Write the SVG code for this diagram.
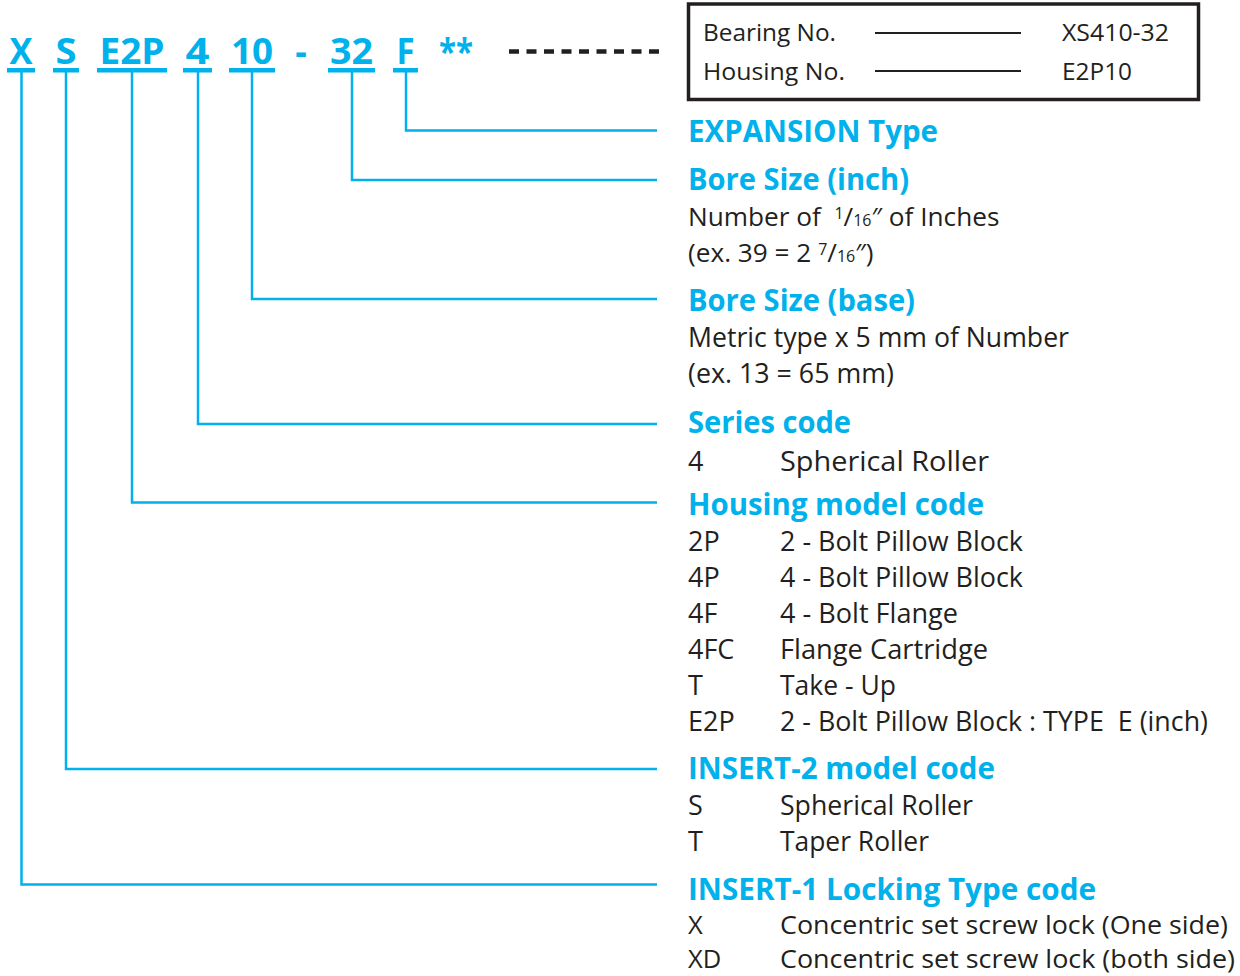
<svg xmlns="http://www.w3.org/2000/svg" width="1240" height="976" viewBox="0 0 1240 976">
<style>
.code{font-family:"Open Sans","Liberation Sans",sans-serif;font-weight:bold;font-size:36px;fill:#00b1ec;text-anchor:middle}
.ul{fill:#00b1ec}
.ln{fill:none;stroke:#00b1ec;stroke-width:2.5}
.hd{font-family:"Open Sans","Liberation Sans",sans-serif;font-weight:bold;font-size:30px;fill:#00b1ec}
.bd{font-family:"Open Sans","Liberation Sans",sans-serif;font-size:27px;fill:#231f20}
.bl{font-size:25.5px}
.bf{font-size:26.2px}
.bx{font-family:"Open Sans","Liberation Sans",sans-serif;font-size:24px;fill:#231f20}
.sm{font-size:16px}
</style>
<rect width="1240" height="976" fill="#fff"/>
<g id="code">
<text class="code" x="21" y="64" textLength="23" lengthAdjust="spacingAndGlyphs">X</text>
<text class="code" x="66" y="64" textLength="21" lengthAdjust="spacingAndGlyphs">S</text>
<text class="code" x="132" y="64" textLength="65" lengthAdjust="spacingAndGlyphs">E2P</text>
<text class="code" x="197.5" y="64" textLength="24" lengthAdjust="spacingAndGlyphs">4</text>
<text class="code" x="252" y="64" textLength="42" lengthAdjust="spacingAndGlyphs">10</text>
<text class="code" x="301" y="64">-</text>
<text class="code" x="351.5" y="64" textLength="43" lengthAdjust="spacingAndGlyphs">32</text>
<text class="code" x="405.5" y="64" textLength="18" lengthAdjust="spacingAndGlyphs">F</text>
<text class="code" x="456" y="64" textLength="34" lengthAdjust="spacingAndGlyphs">**</text>
<rect class="ul" x="7" y="68" width="28" height="4.5"/>
<rect class="ul" x="53" y="68" width="26" height="4.5"/>
<rect class="ul" x="97" y="68" width="70" height="4.5"/>
<rect class="ul" x="183" y="68" width="29" height="4.5"/>
<rect class="ul" x="229" y="68" width="46" height="4.5"/>
<rect class="ul" x="328" y="68" width="47" height="4.5"/>
<rect class="ul" x="393" y="68" width="25" height="4.5"/>
<line x1="509" y1="51.5" x2="660" y2="51.5" stroke="#231f20" stroke-width="4.5" stroke-dasharray="10 7.5"/>
</g>
<g id="connectors">
<polyline class="ln" points="21.5,72 21.5,884.5 657,884.5"/>
<polyline class="ln" points="66,72 66,769 657,769"/>
<polyline class="ln" points="132,72 132,502.5 657,502.5"/>
<polyline class="ln" points="198,72 198,424 657,424"/>
<polyline class="ln" points="252,72 252,299 657,299"/>
<polyline class="ln" points="352,72 352,180 657,180"/>
<polyline class="ln" points="406,72 406,130.5 657,130.5"/>
</g>
<g id="infobox">
<rect x="688.5" y="4" width="510" height="95.5" fill="none" stroke="#231f20" stroke-width="3.5"/>
<text class="bx" x="703" y="41" textLength="133" lengthAdjust="spacingAndGlyphs">Bearing No.</text>
<line x1="875" y1="33" x2="1021" y2="33" stroke="#231f20" stroke-width="2"/>
<text class="bx" x="1062" y="41" textLength="107" lengthAdjust="spacingAndGlyphs">XS410-32</text>
<text class="bx" x="703" y="80" textLength="142" lengthAdjust="spacingAndGlyphs">Housing No.</text>
<line x1="875" y1="71" x2="1021" y2="71" stroke="#231f20" stroke-width="2"/>
<text class="bx" x="1062" y="80" textLength="70" lengthAdjust="spacingAndGlyphs">E2P10</text>
</g>
<g id="expansion">
<text class="hd" x="688" y="142" textLength="250" lengthAdjust="spacingAndGlyphs">EXPANSION Type</text>
</g>
<g id="bore-inch">
<text class="hd" x="688" y="190" textLength="221" lengthAdjust="spacingAndGlyphs">Bore Size (inch)</text>
<text class="bd bf" x="688" y="226">Number of&#160; <tspan class="sm" dy="-7">1</tspan><tspan dy="7">/</tspan><tspan class="sm">16</tspan>″ of Inches</text>
<text class="bd bf" x="688" y="262">(ex. 39 = 2 <tspan class="sm" dy="-7">7</tspan><tspan dy="7">/</tspan><tspan class="sm">16</tspan>″)</text>
</g>
<g id="bore-base">
<text class="hd" x="688" y="311" textLength="227" lengthAdjust="spacingAndGlyphs">Bore Size (base)</text>
<text class="bd" x="688" y="347" textLength="381" lengthAdjust="spacingAndGlyphs">Metric type x 5 mm of Number</text>
<text class="bd" x="688" y="383" textLength="206" lengthAdjust="spacingAndGlyphs">(ex. 13 = 65 mm)</text>
</g>
<g id="series">
<text class="hd" x="688" y="433" textLength="163" lengthAdjust="spacingAndGlyphs">Series code</text>
<text class="bd" x="688" y="471">4</text>
<text class="bd" x="780" y="471" textLength="209" lengthAdjust="spacingAndGlyphs">Spherical Roller</text>
</g>
<g id="housing">
<text class="hd" x="688" y="515" textLength="296" lengthAdjust="spacingAndGlyphs">Housing model code</text>
<text class="bd" x="688" y="551">2P</text>
<text class="bd" x="780" y="551" textLength="243" lengthAdjust="spacingAndGlyphs">2 - Bolt Pillow Block</text>
<text class="bd" x="688" y="587">4P</text>
<text class="bd" x="780" y="587" textLength="243" lengthAdjust="spacingAndGlyphs">4 - Bolt Pillow Block</text>
<text class="bd" x="688" y="623">4F</text>
<text class="bd" x="780" y="623" textLength="178" lengthAdjust="spacingAndGlyphs">4 - Bolt Flange</text>
<text class="bd" x="688" y="659">4FC</text>
<text class="bd" x="780" y="659" textLength="208" lengthAdjust="spacingAndGlyphs">Flange Cartridge</text>
<text class="bd" x="688" y="695">T</text>
<text class="bd" x="780" y="695" textLength="116" lengthAdjust="spacingAndGlyphs">Take - Up</text>
<text class="bd" x="688" y="731">E2P</text>
<text class="bd" x="780" y="731" textLength="428" lengthAdjust="spacingAndGlyphs">2 - Bolt Pillow Block : TYPE&#160; E (inch)</text>
</g>
<g id="insert2">
<text class="hd" x="688" y="779" textLength="307" lengthAdjust="spacingAndGlyphs">INSERT-2 model code</text>
<text class="bd" x="688" y="815">S</text>
<text class="bd" x="780" y="815" textLength="193" lengthAdjust="spacingAndGlyphs">Spherical Roller</text>
<text class="bd" x="688" y="851">T</text>
<text class="bd" x="780" y="851" textLength="149" lengthAdjust="spacingAndGlyphs">Taper Roller</text>
</g>
<g id="insert1">
<text class="hd" x="688" y="900" textLength="408" lengthAdjust="spacingAndGlyphs">INSERT-1 Locking Type code</text>
<text class="bd bl" x="688" y="934">X</text>
<text class="bd bl" x="780" y="934" textLength="448" lengthAdjust="spacingAndGlyphs">Concentric set screw lock (One side)</text>
<text class="bd bl" x="688" y="968">XD</text>
<text class="bd bl" x="780" y="968" textLength="455" lengthAdjust="spacingAndGlyphs">Concentric set screw lock (both side)</text>
</g>
</svg>
